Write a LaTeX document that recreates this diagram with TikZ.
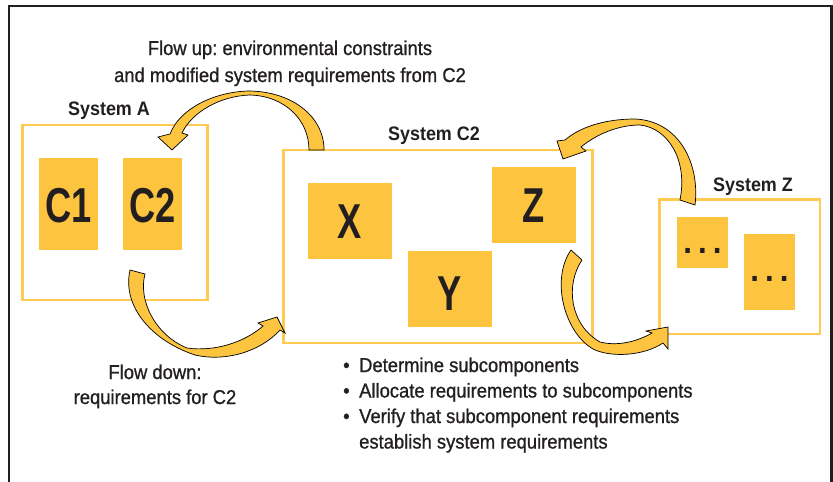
\documentclass[tikz,border=0pt]{standalone}
\usepackage{fontspec}
\setmainfont{Liberation Sans}[FakeStretch=0.92, UprightFeatures={FakeBold=0.9}]
\newfontfamily\bigf{Liberation Sans}[FakeStretch=0.74]
\definecolor{yel}{RGB}{253,196,64}
\definecolor{yline}{RGB}{254,203,80}
\definecolor{txt}{RGB}{35,31,32}
\tikzset{
  sysbox/.style={draw=yline, line width=2.6pt, fill=none, inner sep=0pt},
  compbox/.style={fill=yel, draw=none, inner sep=0pt},
  lbl/.style={text=txt, inner sep=0pt, anchor=base, font=\fontsize{20}{26}\selectfont},
  syslbl/.style={text=txt, inner sep=0pt, anchor=base, font=\fontsize{19.5}{24}\selectfont\bfseries},
  bulletline/.style={text=txt, inner sep=0pt, anchor=base west, font=\fontsize{20}{26}\selectfont},
  bigl/.style={text=txt, inner sep=0pt, anchor=base, font=\fontsize{49}{50}\selectfont\bigf\bfseries},
  dotl/.style={text=txt, inner sep=0pt, anchor=base, font=\fontsize{34}{36}\selectfont\bfseries},
  blockarrow/.style={fill=yel, draw=black, line width=0.7pt, line join=miter}
}
\begin{document}
\frenchspacing
\begin{tikzpicture}[x=1pt,y=-1pt]
\useasboundingbox (0,0) rectangle (833,482);
\clip (0,0) rectangle (833,482);
\fill[white] (0,0) rectangle (833,482);
% frame
\draw[txt, line width=2.6pt] (9,500) -- (9,6) -- (831.5,6) -- (831.5,500);

% System A
\node[sysbox, minimum width=185pt, minimum height=175pt] (sysA) at (115,212.5) {};
\node[compbox, minimum width=59pt, minimum height=92pt] (c1) at (68.5,204) {};
\node[compbox, minimum width=59pt, minimum height=92pt] (c2) at (152.5,204) {};
\node[bigl] (c1t) at (68.5,222) {C1};
\node[bigl] (c2t) at (152.5,222) {C2};
\node[syslbl] (labA) at (109,115) {System A};

% System C2
\node[sysbox, minimum width=309pt, minimum height=193pt] (sysC) at (438,246.5) {};
\node[compbox, minimum width=84pt, minimum height=76pt] (bx) at (350,221) {};
\node[compbox, minimum width=84pt, minimum height=76pt] (by) at (450,289) {};
\node[compbox, minimum width=84pt, minimum height=76pt] (bz) at (534,205) {};
\node[bigl] (xt) at (350,238) {X};
\node[bigl] (yt) at (450,310) {Y};
\node[bigl] (zt) at (534,222) {Z};
\node[syslbl] (labC) at (434,140) {System C2};

% System Z
\node[sysbox, minimum width=160.5pt, minimum height=134.5pt] (sysZ) at (739.75,266.75) {};
\node[compbox, minimum width=51pt, minimum height=51pt] (d1) at (702.5,242.5) {};
\node[compbox, minimum width=51pt, minimum height=76pt] (d2) at (769.5,272) {};
\node[dotl] (d1t) at (702.5,253) {.\hspace{6pt}.\hspace{6pt}.};
\node[dotl] (d2t) at (769.5,281) {.\hspace{6pt}.\hspace{6pt}.};
\node[syslbl] (labZ) at (753,191) {System Z};

% flow up label
\node[lbl] (up1) at (290,55) {Flow up: environmental constraints};
\node[lbl] (up2) at (290,82) {and modified system requirements from C2};
% flow down label
\node[lbl] (dn1) at (155,379) {Flow down:};
\node[lbl] (dn2) at (155,404) {requirements for C2};
% bullets
\node[bulletline] (b1) at (343,372) {\makebox[16pt][l]{•}Determine subcomponents};
\node[bulletline] (b2) at (343,397.5) {\makebox[16pt][l]{•}Allocate requirements to subcomponents};
\node[bulletline] (b3) at (343,423) {\makebox[16pt][l]{•}Verify that subcomponent requirements};
\node[bulletline] (b4) at (343,448.5) {\makebox[16pt][l]{}establish system requirements};

% arrow: flow up C2 -> A
\draw[blockarrow] (309,150) -- (324,150)
  .. controls (324,115) and (290,91) .. (248,91)
  .. controls (215,92) and (180,108) .. (170,134)
  -- (158,137) -- (172,150) -- (188,135) -- (182,133)
  .. controls (192,112) and (220,96) .. (250,95)
  .. controls (285,96) and (309,120) .. (309,150) -- cycle;
% arrow: flow down A -> C2
\draw[blockarrow] (130,270) -- (145,274)
  .. controls (138,300) and (155,335) .. (187,348)
  .. controls (215,352) and (245,342) .. (263,326)
  -- (258,323) -- (277,317) -- (285,333) -- (280,330)
  .. controls (260,352) and (225,362) .. (195,355)
  .. controls (150,340) and (122,305) .. (130,270) -- cycle;
% arrow: Z -> C2
\draw[blockarrow] (680,200) -- (695,205)
  .. controls (700,165) and (680,121) .. (635,119)
  .. controls (605,119) and (580,127) .. (565,140)
  -- (557,141) -- (563,159) -- (586,151) -- (581,147)
  .. controls (598,133) and (620,125) .. (640,125)
  .. controls (668,128) and (688,160) .. (680,200) -- cycle;
% arrow: C2 -> Z
\draw[blockarrow] (571,250) -- (582,260)
  .. controls (565,285) and (570,325) .. (600,342)
  .. controls (620,347) and (640,340) .. (652,333)
  -- (646,331) -- (668,327) -- (668,349) -- (663,343)
  .. controls (645,355) and (615,358) .. (595,350)
  .. controls (565,335) and (550,280) .. (571,250) -- cycle;
\end{tikzpicture}
\end{document}
